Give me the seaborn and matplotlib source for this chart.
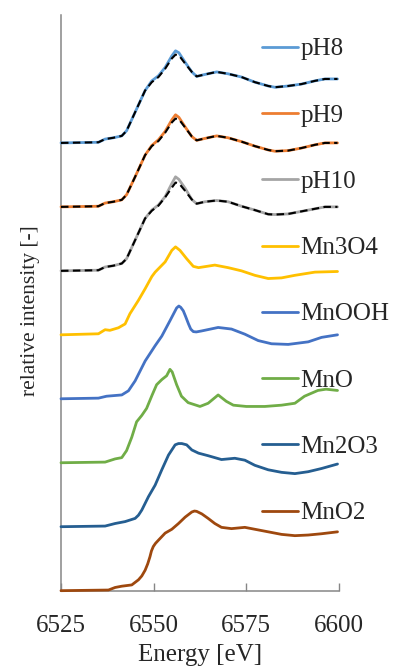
import matplotlib
matplotlib.use("Agg")
import matplotlib.pyplot as plt
import seaborn as sns
import pandas as pd

# Mn K-edge XANES, normalised, stacked with offset of 1 per spectrum
names = ["pH8", "pH9", "pH10", "Mn3O4", "MnOOH", "MnO", "Mn2O3", "MnO2"]
colors = ["#5B9BD5", "#ED7D31", "#A5A5A5", "#FFC000", "#4472C4", "#70AD47", "#255E91", "#9E480E"]

e_ph = [6525.0, 6535.1, 6536.9, 6539.1, 6541.4, 6542.7, 6545.0, 6547.7, 6549.5, 6551.3,
        6553.1, 6554.9, 6555.9, 6556.8, 6558.5, 6560.3, 6561.6, 6563.8, 6567.0, 6570.1,
        6573.7, 6577.3, 6580.9, 6582.7, 6586.3, 6589.9, 6593.5, 6596.2, 6599.6]
ph8 = [0, 0.01, 0.06, 0.08, 0.11, 0.19, 0.48, 0.82, 0.97, 1.05, 1.18, 1.36, 1.44, 1.41, 1.26,
       1.11, 1.04, 1.07, 1.11, 1.08, 1.03, 0.95, 0.89, 0.87, 0.89, 0.92, 0.97, 1.0, 1.0]
ph9 = [0, 0.01, 0.06, 0.08, 0.11, 0.19, 0.47, 0.81, 0.96, 1.05, 1.18, 1.36, 1.44, 1.40, 1.25,
       1.10, 1.04, 1.07, 1.11, 1.08, 1.02, 0.95, 0.89, 0.87, 0.88, 0.92, 0.97, 1.0, 1.0]
ph10 = [0, 0.01, 0.06, 0.08, 0.115, 0.19, 0.48, 0.82, 0.95, 1.03, 1.16, 1.365, 1.47, 1.43, 1.29,
        1.115, 1.05, 1.08, 1.10, 1.08, 1.01, 0.95, 0.885, 0.88, 0.89, 0.93, 0.97, 1.0, 1.0]
# linear combination fits (black dashed)
fit8 = [0, 0.01, 0.06, 0.08, 0.11, 0.19, 0.48, 0.82, 0.95, 1.03, 1.16, 1.32, 1.38, 1.37, 1.24,
        1.11, 1.04, 1.07, 1.11, 1.08, 1.03, 0.95, 0.89, 0.87, 0.89, 0.92, 0.97, 1.0, 1.0]
fit9 = [0, 0.01, 0.06, 0.08, 0.11, 0.19, 0.47, 0.81, 0.95, 1.03, 1.16, 1.32, 1.38, 1.37, 1.24,
        1.10, 1.04, 1.07, 1.11, 1.08, 1.02, 0.95, 0.89, 0.87, 0.88, 0.92, 0.97, 1.0, 1.0]
fit10 = [0, 0.01, 0.06, 0.08, 0.115, 0.19, 0.48, 0.82, 0.94, 1.02, 1.15, 1.30, 1.38, 1.37, 1.25,
         1.115, 1.05, 1.08, 1.10, 1.08, 1.01, 0.95, 0.885, 0.88, 0.89, 0.93, 0.97, 1.0, 1.0]

e_mn3o4 = [6525.0, 6535.1, 6536.9, 6538.2, 6540.5, 6542.3, 6543.6, 6545.9, 6547.7, 6549.5,
           6550.4, 6553.1, 6554.9, 6555.9, 6557.1, 6558.9, 6560.7, 6562.1, 6566.5, 6570.1,
           6573.7, 6577.3, 6580.9, 6584.5, 6588.1, 6593.5, 6599.6]
mn3o4 = [0, 0.016, 0.08, 0.07, 0.11, 0.17, 0.33, 0.54, 0.72, 0.91, 0.98, 1.14, 1.32, 1.375,
         1.32, 1.19, 1.07, 1.05, 1.09, 1.05, 1.0, 0.93, 0.88, 0.89, 0.93, 0.98, 0.99]

e_mnooh = [6525.0, 6535.1, 6537.3, 6541.4, 6543.2, 6545.0, 6547.7, 6550.4, 6552.2, 6554.4,
           6556.2, 6556.8, 6557.3, 6558.0, 6558.6, 6559.4, 6560.0, 6560.7, 6561.5, 6562.9,
           6567.4, 6571.0, 6574.6, 6578.2, 6581.8, 6586.3, 6591.7, 6595.3, 6599.6]
mnooh = [0, 0.01, 0.04, 0.06, 0.125, 0.28, 0.59, 0.83, 0.98, 1.22, 1.42, 1.45, 1.43, 1.375,
         1.29, 1.17, 1.09, 1.05, 1.045, 1.06, 1.115, 1.09, 1.01, 0.91, 0.86, 0.85, 0.89, 0.96, 1.0]

e_mno = [6525.0, 6536.9, 6539.6, 6541.4, 6542.7, 6544.1, 6545.4, 6546.8, 6548.1, 6549.6,
         6550.8, 6552.2, 6553.5, 6554.4, 6555.0, 6556.2, 6557.5, 6559.3, 6562.5, 6564.7,
         6567.4, 6569.6, 6571.5, 6575.0, 6580.0, 6584.5, 6588.1, 6590.7, 6594.3, 6596.5, 6599.6]
mno = [0, 0.01, 0.06, 0.08, 0.19, 0.40, 0.64, 0.74, 0.85, 1.06, 1.22, 1.30, 1.36, 1.46, 1.42,
       1.22, 1.04, 0.94, 0.88, 0.93, 1.06, 0.96, 0.90, 0.88, 0.88, 0.90, 0.93, 1.04, 1.13, 1.15, 1.13]

e_mn2o3 = [6525.0, 6536.9, 6539.6, 6542.3, 6545.0, 6545.9, 6546.8, 6548.6, 6550.4, 6552.2,
           6554.0, 6555.8, 6556.7, 6557.6, 6558.9, 6560.3, 6562.1, 6564.7, 6568.3, 6571.9,
           6574.6, 6577.3, 6580.9, 6584.5, 6588.1, 6591.7, 6595.3, 6599.6]
mn2o3 = [0, 0.01, 0.05, 0.08, 0.13, 0.18, 0.26, 0.47, 0.65, 0.89, 1.12, 1.28, 1.30, 1.30, 1.28,
         1.20, 1.15, 1.11, 1.05, 1.07, 1.04, 0.96, 0.89, 0.85, 0.83, 0.86, 0.91, 0.98]

e_mno2 = [6525.0, 6537.8, 6539.6, 6541.4, 6544.1, 6545.9, 6546.8, 6547.7, 6548.4, 6549.0,
          6549.4, 6549.9, 6550.5, 6551.3, 6553.1, 6554.9, 6556.7, 6558.5, 6560.3, 6561.0,
          6561.6, 6563.0, 6564.7, 6566.5, 6568.3, 6571.0, 6574.6, 6577.3, 6580.9, 6584.5,
          6588.1, 6591.7, 6595.3, 6599.6]
mno2 = [0, 0.01, 0.05, 0.07, 0.09, 0.17, 0.23, 0.32, 0.42, 0.53, 0.62, 0.69, 0.74, 0.79, 0.90,
        0.96, 1.05, 1.15, 1.23, 1.245, 1.24, 1.20, 1.13, 1.05, 0.99, 0.97, 0.99, 0.96, 0.92,
        0.88, 0.86, 0.87, 0.89, 0.92]

spectra = [(e_ph, ph8), (e_ph, ph9), (e_ph, ph10), (e_mn3o4, mn3o4), (e_mnooh, mnooh),
           (e_mno, mno), (e_mn2o3, mn2o3), (e_mno2, mno2)]
fits = [fit8, fit9, fit10]

rows = []
for i, (name, (e, v)) in enumerate(zip(names, spectra)):
    off = len(names) - 1 - i
    for x, y in zip(e, v):
        rows.append({"energy": x, "intensity": y + off, "sample": name})
df = pd.DataFrame(rows)

fit_rows = []
for i, f in enumerate(fits):
    off = len(names) - 1 - i
    for x, y in zip(e_ph, f):
        fit_rows.append({"energy": x, "intensity": y + off, "fit": names[i]})
df_fit = pd.DataFrame(fit_rows)

sns.set_theme(style="white")
plt.rcParams["font.family"] = ["Liberation Serif", "DejaVu Serif"]

fig = plt.figure(figsize=(3.95, 6.66), dpi=100)
ax = fig.add_axes([0.1544, 0.1131, 0.7038, 0.8644])

sns.lineplot(data=df, x="energy", y="intensity", hue="sample", hue_order=names,
             palette=colors, sort=False, estimator=None, lw=2.0, ax=ax, zorder=3,
             clip_on=False, solid_joinstyle="round")
sns.lineplot(data=df_fit, x="energy", y="intensity", units="fit", estimator=None, sort=False,
             color="black", lw=1.5, linestyle=(0, (3.6, 2.1)), legend=False, ax=ax, zorder=4,
             clip_on=False)

ax.set_xlim(6525, 6600)
ax.set_ylim(0, 9)
ax.set_xticks([6525, 6550, 6575, 6600])
ax.set_yticks([])
ax.tick_params(axis="x", direction="in", length=6, width=1, color="#868686",
               labelsize=18, pad=17.5, bottom=True)
for s in ["top", "right"]:
    ax.spines[s].set_visible(False)
for s in ["left", "bottom"]:
    ax.spines[s].set_color("#868686")
    ax.spines[s].set_linewidth(1.1)

ax.set_xlabel("Energy [eV]", fontsize=18, labelpad=5)
ax.set_ylabel("relative intensity [-]", fontsize=15.5)
ax.yaxis.set_label_coords(-0.075, 0.487)

handles, labels = ax.get_legend_handles_labels()
leg = ax.legend(handles, labels, loc="upper left", bbox_to_anchor=(261.7 / 395, 1 - 38 / 666),
                bbox_transform=fig.transFigure, frameon=False, fontsize=18,
                handlelength=1.46, handletextpad=0.1, labelspacing=1.75,
                borderpad=0, borderaxespad=0)
for h in leg.get_lines():
    h.set_linewidth(2.0)

fig.savefig("out.png", dpi=100)
